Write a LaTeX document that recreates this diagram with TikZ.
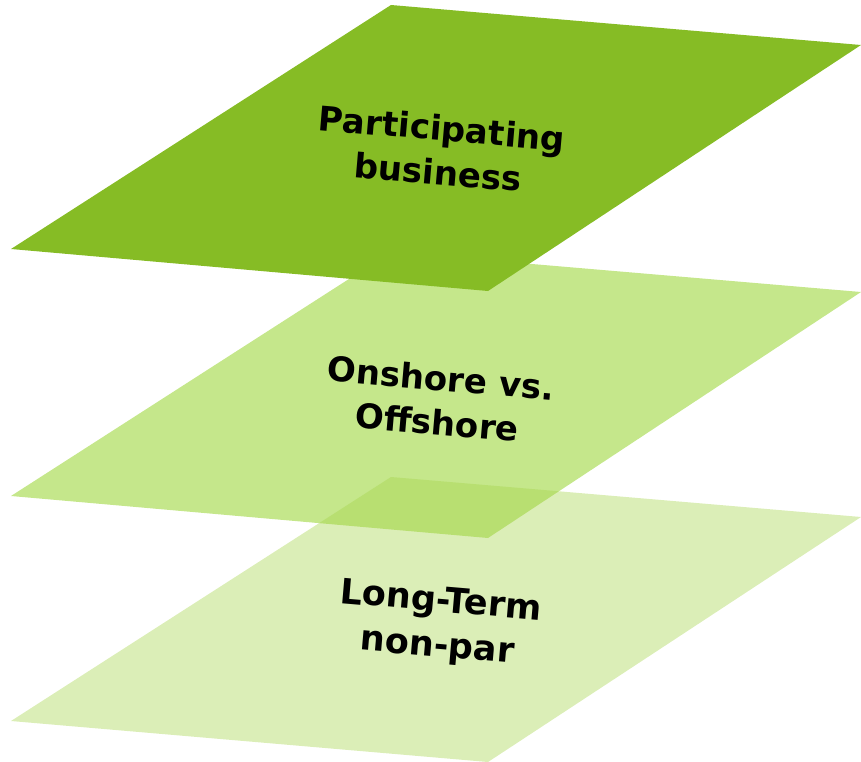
\documentclass[tikz,border=0pt]{standalone}
\usepackage{fontspec}
\setmainfont{DejaVu Sans}
\begin{document}
\begin{tikzpicture}[x=1pt,y=-1pt,
  layerlabel/.style={font=\bfseries\fontsize{34}{44}\selectfont, align=center, rotate=-4.9, text=black, inner sep=0pt}]
\definecolor{topgreen}{HTML}{86BC25}
\definecolor{midgreen}{HTML}{C5E78B}
\definecolor{lowgreen}{HTML}{A6D44A}
\useasboundingbox (0,0) rectangle (861,762);
% middle sheet
\fill[midgreen] (391,252) -- (861,292) -- (488,538) -- (11,496) -- cycle;
% bottom sheet, translucent so the middle one shows through
\fill[lowgreen, fill opacity=0.4] (391,477) -- (861,517) -- (488,762) -- (11,721) -- cycle;
% top sheet
\fill[topgreen] (391,5) -- (861,45) -- (488,291) -- (11,249) -- cycle;
\node[layerlabel] (top) at (440,150) {Participating\\business};
\node[layerlabel] (mid) at (439,400) {Onshore vs.\\Offshore};
\node[layerlabel, font=\bfseries\fontsize{35}{45}\selectfont] (low) at (439,625) {Long-Term\\non-par};
\end{tikzpicture}
\end{document}
